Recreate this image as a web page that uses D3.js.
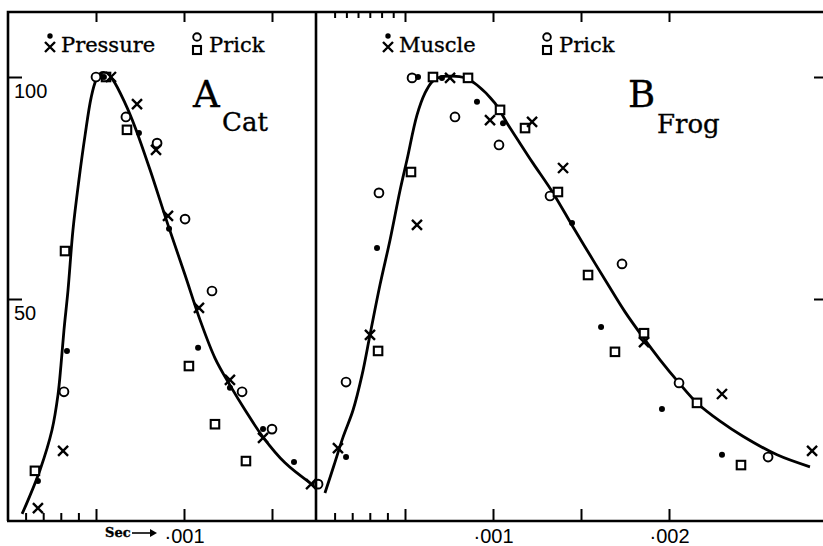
<!DOCTYPE html>
<html>
<head>
<meta charset="utf-8">
<script src="https://cdn.jsdelivr.net/npm/d3@7"></script>
<style>
  body { margin: 0; background: #fff; }
  svg { display: block; }
  .frame { fill: none; stroke: #000; stroke-width: 2.6; }
  .curve { fill: none; stroke: #000; stroke-width: 2.8; }
  .axis line { stroke: #000; stroke-width: 2; }
  .axis path { display: none; }
  .axis text { font-family: "Liberation Sans", Arial, sans-serif; font-size: 20px; fill: #000; }
  .serif { font-family: "DejaVu Serif", serif; fill: #000; stroke: #000; stroke-width: 0.35; }
</style>
</head>
<body>
<div id="chart"></div>
<script>
// x in thousandths of a second, y in % of the peak response

// A, cat
const catCircles = [[0.500, 100], [0.670, 91.0], [0.847, 85.1], [1.006, 68.0], [1.159, 51.8],
  [0.318, 29.1], [1.330, 29.1], [1.500, 20.7]];
const catSquares = [[0.557, 100], [0.676, 88.1], [0.324, 60.8], [0.153, 11.3], [1.028, 34.9],
  [1.176, 21.8], [1.352, 13.5]];
const catDots = [[0.545, 100], [0.744, 87.4], [0.915, 65.8], [0.335, 38.3], [1.080, 39.0],
  [1.261, 30.0], [1.449, 20.7], [1.625, 13.3], [0.170, 9.0]];
const catCrosses = [[0.585, 100], [0.733, 93.9], [0.841, 83.6], [0.909, 68.7], [1.085, 48.0],
  [0.313, 15.8], [1.261, 31.8], [1.449, 18.7], [1.722, 8.3], [0.170, 2.9]];
const catCurve = [[0.080, 1.6], [0.114, 4.7], [0.182, 11.5], [0.250, 20.5], [0.284, 28.4],
  [0.301, 35.1], [0.318, 43.0], [0.341, 52.0], [0.369, 65.5], [0.403, 76.8], [0.438, 86.9],
  [0.472, 95.3], [0.500, 99.3], [0.528, 100.9], [0.557, 100.9], [0.597, 99.3], [0.665, 94.1],
  [0.722, 88.7], [0.807, 79.1], [0.909, 66.7], [1.006, 55.4], [1.091, 45.3], [1.176, 36.7],
  [1.261, 30.6], [1.347, 25.0], [1.449, 18.9], [1.574, 13.1], [1.716, 8.6]];

// B, frog
const frogCircles = [[0.540, 99.8], [0.784, 91.0], [1.034, 84.7], [0.352, 73.9], [1.324, 73.2],
  [1.733, 57.9], [0.165, 31.3], [2.057, 31.1], [2.563, 14.4], [0.006, 8.3]];
const frogSquares = [[0.659, 100], [0.858, 99.8], [1.040, 92.6], [1.182, 88.5], [0.534, 78.6],
  [1.369, 74.1], [1.540, 55.4], [1.858, 42.3], [1.693, 38.1], [0.347, 38.3], [2.159, 26.6],
  [2.409, 12.6]];
const frogDots = [[0.574, 100], [0.710, 99.8], [0.909, 94.4], [1.057, 89.6], [0.341, 61.5],
  [1.449, 67.1], [1.614, 43.7], [1.960, 25.2], [2.301, 14.9], [0.165, 14.4]];
const frogCrosses = [[0.756, 99.8], [0.983, 90.3], [1.222, 89.9], [0.568, 66.7], [1.398, 79.5],
  [0.301, 41.9], [1.858, 40.3], [0.119, 16.4], [2.301, 28.6], [2.813, 15.8]];
const frogCurve = [[0.045, 6.3], [0.097, 12.6], [0.148, 18.9], [0.205, 25.0], [0.256, 32.9],
  [0.301, 41.9], [0.358, 53.2], [0.415, 63.3], [0.472, 74.5], [0.511, 81.3], [0.568, 91.4],
  [0.614, 96.4], [0.653, 98.9], [0.699, 100], [0.767, 100.2], [0.841, 99.8], [0.909, 98.2],
  [1.011, 94.1], [1.080, 89.6], [1.153, 85.1], [1.227, 80.6], [1.341, 73.9], [1.455, 66.2],
  [1.551, 59.9], [1.648, 53.6], [1.750, 47.1], [1.852, 41.4], [1.949, 36.3], [2.057, 31.1],
  [2.159, 26.6], [2.290, 22.5], [2.420, 19.1], [2.614, 14.9], [2.801, 12.2]];

// axes
const xMinorTicks = [0.1, 0.2, 0.3, 0.4];
const xMajorTicks = [0.5, 1, 1.5, 2];
const xMajorLabels = ["", "·001", "", "·002"];
const frogTopMinorTicks = [0.1, 0.167, 0.233, 0.3, 0.367, 0.433];
const yTicks = [50, 100];
const yTickLabels = ["50", "100"];

const catLegend = ["Pressure", "Prick"];
const frogLegend = ["Muscle", "Prick"];

(function() {
  let width = 823;
  let height = 546;
  let top = 12;
  let bottom = 521;

  let svg = d3
    .select("#chart")
    .append("svg")
    .attr("width", width)
    .attr("height", height);

  let y = d3.scaleLinear().domain([0, 100]).range([bottom, 77]);

  let line = d3.line().curve(d3.curveCatmullRom.alpha(0.5));

  //
  // marker helpers, all drawn in black ink
  //
  function circles(g, pts, x, yy, r) {
    g.selectAll(null).data(pts).enter().append("circle")
      .attr("cx", d => x(d[0])).attr("cy", d => yy(d[1]))
      .attr("r", r || 4.4)
      .style("fill", "#fff").style("stroke", "#000").style("stroke-width", 1.9);
  }

  function squares(g, pts, x, yy, s) {
    s = s || 8.5;
    g.selectAll(null).data(pts).enter().append("rect")
      .attr("x", d => x(d[0]) - s / 2).attr("y", d => yy(d[1]) - s / 2)
      .attr("width", s).attr("height", s)
      .style("fill", "#fff").style("stroke", "#000").style("stroke-width", 2.1);
  }

  function dots(g, pts, x, yy, r) {
    g.selectAll(null).data(pts).enter().append("circle")
      .attr("cx", d => x(d[0])).attr("cy", d => yy(d[1]))
      .attr("r", r || 3)
      .style("fill", "#000");
  }

  function crosses(g, pts, x, yy, s) {
    s = s || 5;
    g.selectAll(null).data(pts).enter().append("path")
      .attr("d", function(d) {
        let cx = x(d[0]), cy = yy(d[1]);
        return "M" + (cx - s) + "," + (cy - s) + "L" + (cx + s) + "," + (cy + s) +
          "M" + (cx - s) + "," + (cy + s) + "L" + (cx + s) + "," + (cy - s);
      })
      .style("fill", "none").style("stroke", "#000").style("stroke-width", 2.4);
  }

  // paired legend symbols: one above the other, then the name
  function legend(g, names, at) {
    let ax = at[0], bx = at[1];
    let pos = d => d;
    dots(g, [[ax, 36]], pos, pos, 2.7);
    crosses(g, [[ax, 47]], pos, pos, 5);
    circles(g, [[bx, 37]], pos, pos, 3.8);
    squares(g, [[bx, 50]], pos, pos, 8);
    g.append("text").attr("class", "serif").attr("x", ax + 11).attr("y", 52)
      .style("font-size", "21px").text(names[0]);
    g.append("text").attr("class", "serif").attr("x", bx + 12).attr("y", 52)
      .style("font-size", "21px").text(names[1]);
  }

  function panel(p) {
    let x = d3.scaleLinear().domain(p.domain).range(p.range);
    let g = svg.append("g").attr("class", "panel");
    let majors = xMajorTicks.filter(t => t < p.domain[1]);

    // bottom ticks, pointing up into the plot
    g.append("g").attr("class", "axis")
      .attr("transform", "translate(0," + bottom + ")")
      .call(d3.axisBottom(x).tickValues(xMinorTicks).tickSizeInner(-8).tickSizeOuter(0).tickFormat(""));
    g.append("g").attr("class", "axis")
      .attr("transform", "translate(0," + bottom + ")")
      .call(d3.axisBottom(x)
        .tickValues(majors)
        .tickSizeInner(-12).tickSizeOuter(0).tickPadding(8)
        .tickFormat(d => xMajorLabels[xMajorTicks.indexOf(d)]));

    // top ticks, hanging down
    g.append("g").attr("class", "axis")
      .attr("transform", "translate(0," + top + ")")
      .call(d3.axisBottom(x).tickValues(p.topMinor).tickSizeInner(6).tickSizeOuter(0).tickFormat(""));
    g.append("g").attr("class", "axis")
      .attr("transform", "translate(0," + top + ")")
      .call(d3.axisBottom(x).tickValues(majors).tickSizeInner(10).tickSizeOuter(0).tickFormat(""));

    g.append("path").attr("class", "curve").attr("d", line(p.curve.map(d => [x(d[0]), y(d[1])])));

    let marks = g.append("g");
    circles(marks, p.circles, x, y);
    squares(marks, p.squares, x, y);
    dots(marks, p.dots, x, y);
    crosses(marks, p.crosses, x, y);

    legend(g.append("g"), p.legend, p.legendAt);

    g.append("text").attr("class", "serif").attr("x", p.letterAt).attr("y", 107)
      .style("font-size", "37px").text(p.letter);
    g.append("text").attr("class", "serif").attr("x", p.nameAt[0]).attr("y", p.nameAt[1])
      .style("font-size", "26px").text(p.name);

    return x;
  }

  let xA = panel({
    domain: [0, 1.75], range: [8, 316],
    topMinor: [],
    curve: catCurve, circles: catCircles, squares: catSquares, dots: catDots, crosses: catCrosses,
    legend: catLegend, legendAt: [50, 197],
    letter: "A", letterAt: 193, name: "Cat", nameAt: [222, 131]
  });

  panel({
    domain: [0, 2.875], range: [317, 823],
    topMinor: frogTopMinorTicks,
    curve: frogCurve, circles: frogCircles, squares: frogSquares, dots: frogDots, crosses: frogCrosses,
    legend: frogLegend, legendAt: [388, 547],
    letter: "B", letterAt: 628, name: "Frog", nameAt: [657, 133]
  });

  // y ticks: left edge with labels, right edge bare
  let yAxis = svg.append("g").attr("class", "axis")
    .attr("transform", "translate(8,0)")
    .call(d3.axisLeft(y).tickValues(yTicks).tickSizeInner(-14).tickSizeOuter(0)
      .tickFormat(d => yTickLabels[yTicks.indexOf(d)]));
  yAxis.selectAll("text")
    .attr("text-anchor", "start")
    .attr("x", 6)
    .attr("dy", null)
    .attr("y", 20);

  svg.append("g").attr("class", "axis")
    .attr("transform", "translate(" + width + ",0)")
    .call(d3.axisRight(y).tickValues(yTicks).tickSizeInner(-9).tickSizeOuter(0).tickFormat(""));

  // frame
  let frame = svg.append("g");
  frame.append("path").attr("class", "frame")
    .attr("d", "M8," + bottom + "V" + top + "H" + width);
  frame.append("path").attr("class", "frame")
    .attr("d", "M7," + bottom + "H" + width);
  frame.append("path").attr("class", "frame")
    .attr("d", "M" + xA.range()[1] + "," + top + "V" + (bottom + 1));

  // "Sec ->" before the first label
  let sx = 105;
  svg.append("text").attr("class", "serif")
    .attr("x", sx).attr("y", 537)
    .style("font-size", "13px").style("font-weight", "bold")
    .text("Sec");
  svg.append("path")
    .attr("d", "M" + (sx + 27) + ",533H" + (sx + 50))
    .style("stroke", "#000").style("stroke-width", 1.6);
  svg.append("path")
    .attr("d", "M" + (sx + 45) + ",529L" + (sx + 52) + ",533L" + (sx + 45) + ",537Z")
    .style("fill", "#000");
})();
</script>
</body>
</html>
